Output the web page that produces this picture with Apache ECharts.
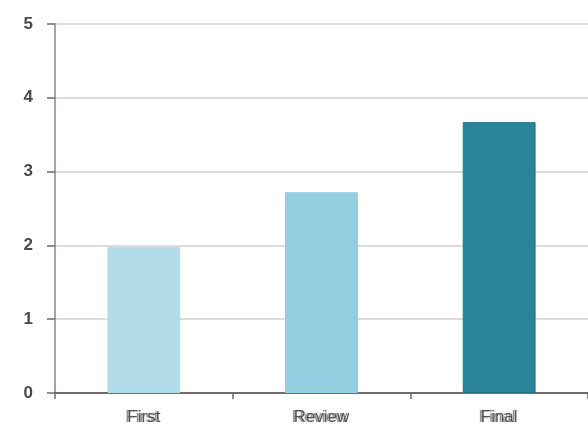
<!DOCTYPE html>
<html>
<head>
<meta charset="utf-8">
<script src="https://cdn.jsdelivr.net/npm/echarts@6/dist/echarts.min.js"></script>
<style>
  html, body { margin: 0; padding: 0; background: #fff; }
  #chart { width: 588px; height: 428px; }
</style>
</head>
<body>
<div id="chart"></div>
<script>
// Stages and their scores
const categories = ['First', 'Review', 'Final'];
const scores = [1.98, 2.72, 3.67];
const barColors = ['#b2dcea', '#93cde0', '#2a8499'];
const barBorders = ['#b2dcea', '#93cde0', '#1f7489'];
const yTicks = [0, 1, 2, 3, 4, 5];

const chart = echarts.init(document.getElementById('chart'));
chart.setOption({
  animation: false,
  backgroundColor: '#ffffff',
  grid: { left: 55, right: 0, top: 24, bottom: 35, containLabel: false },
  xAxis: {
    type: 'category',
    data: categories,
    axisLine: { lineStyle: { color: '#76686b', width: 2 } },
    axisTick: { show: true, length: 6, lineStyle: { color: '#76686b', width: 1.5 } },
    axisLabel: {
      margin: 16,
      color: '#555555',
      fontFamily: 'Liberation Sans, Arial, sans-serif',
      fontSize: 17,
      textShadowColor: 'rgba(85,85,85,0.75)',
      textShadowOffsetX: -2,
      textShadowBlur: 1
    },
    splitLine: { show: false }
  },
  yAxis: {
    type: 'value',
    min: yTicks[0],
    max: yTicks[yTicks.length - 1],
    interval: 1,
    axisLine: { show: true, lineStyle: { color: '#8a8486', width: 1.5 } },
    axisTick: { show: true, length: 8, lineStyle: { color: '#76686b', width: 1.5 } },
    axisLabel: {
      margin: 22,
      color: '#4a4a4a',
      fontWeight: 'bold',
      fontFamily: 'Liberation Sans, Arial, sans-serif',
      fontSize: 17,
      formatter: v => yTicks.includes(v) ? String(v) : ''
    },
    splitLine: { show: true, lineStyle: { color: '#dcdcdc', width: 2 } }
  },
  series: [{
    type: 'bar',
    barWidth: '41%',
    data: scores.map((v, i) => ({
      value: v,
      itemStyle: { color: barColors[i], borderColor: barBorders[i], borderWidth: 1 }
    }))
  }]
});
</script>
</body>
</html>
